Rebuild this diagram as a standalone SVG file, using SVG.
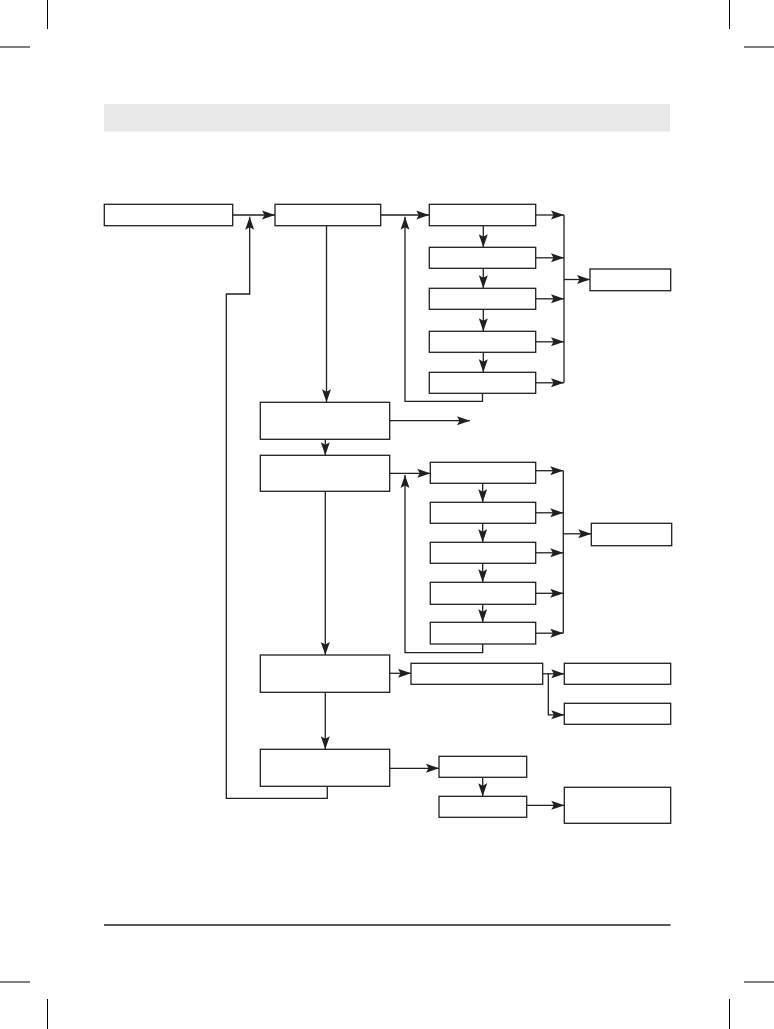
<svg xmlns="http://www.w3.org/2000/svg" width="774" height="1029" viewBox="0 0 774 1029">
<style>
.box{fill:#fff;stroke:#231f20;stroke-width:1.3}
.ln{fill:none;stroke:#231f20;stroke-width:1.3}
.arr{fill:none;stroke:#231f20;stroke-width:1.3;marker-end:url(#ah)}
.crop{stroke:#000;stroke-width:1}
</style>
<defs>
<marker id="ah" viewBox="0 0 13 10" refX="13" refY="5" markerWidth="13" markerHeight="10" orient="auto" markerUnits="userSpaceOnUse">
<path d="M0,0.5 L13,5 L0,9.5 L2.5,5 Z" fill="#231f20"/>
</marker>
</defs>
<rect width="774" height="1029" fill="#fff"/>
<g id="page">
<line class="crop" x1="47.5" y1="0" x2="47.5" y2="29"/>
<line class="crop" x1="0" y1="47" x2="30" y2="47"/>
<line class="crop" x1="729.5" y1="0" x2="729.5" y2="29"/>
<line class="crop" x1="744" y1="47" x2="774" y2="47"/>
<line class="crop" x1="47.5" y1="999" x2="47.5" y2="1029"/>
<line class="crop" x1="0" y1="982" x2="30" y2="982"/>
<line class="crop" x1="729.5" y1="999" x2="729.5" y2="1029"/>
<line class="crop" x1="744" y1="982" x2="774" y2="982"/>
<rect x="104" y="104" width="566" height="27.5" fill="#e8e8e8"/>
<line x1="104" y1="925" x2="670.5" y2="925" stroke="#231f20" stroke-width="1.3"/>
</g>
<g id="connectors">
<line class="arr" x1="232.7" y1="215" x2="275" y2="215"/>
<polyline class="arr" points="327.3,786.3 327.3,798.3 226.3,798.3 226.3,294 249.7,294 249.7,216.8"/>
<line class="arr" x1="380.7" y1="215" x2="429.3" y2="215"/>
<line class="arr" x1="483.3" y1="225.7" x2="483.3" y2="247.3"/>
<line class="arr" x1="483.3" y1="268.3" x2="483.3" y2="288.3"/>
<line class="arr" x1="483.3" y1="309.3" x2="483.3" y2="331.3"/>
<line class="arr" x1="483.3" y1="352.3" x2="483.3" y2="372.3"/>
<polyline class="arr" points="482.5,393.3 482.5,401.3 405,401.3 405,216.8"/>
<line class="arr" x1="535.7" y1="215" x2="564" y2="215"/>
<line class="arr" x1="535.7" y1="257.8" x2="564" y2="257.8"/>
<line class="arr" x1="535.7" y1="298.8" x2="564" y2="298.8"/>
<line class="arr" x1="535.7" y1="341.8" x2="564" y2="341.8"/>
<line class="arr" x1="535.7" y1="382.8" x2="564" y2="382.8"/>
<line class="ln" x1="564" y1="215" x2="564" y2="382.8"/>
<line class="arr" x1="564" y1="279.5" x2="590" y2="279.5"/>
<line class="arr" x1="326.5" y1="225.7" x2="326.5" y2="402.3"/>
<line class="arr" x1="389.7" y1="420.7" x2="470" y2="420.7"/>
<line class="arr" x1="325.3" y1="439.3" x2="325.3" y2="455.3"/>
<line class="arr" x1="389.7" y1="473.3" x2="430.3" y2="473.3"/>
<line class="arr" x1="482.7" y1="483.3" x2="482.7" y2="502.3"/>
<line class="arr" x1="482.7" y1="523.3" x2="482.7" y2="542.3"/>
<line class="arr" x1="482.7" y1="563.3" x2="482.7" y2="582.3"/>
<line class="arr" x1="482.7" y1="604.3" x2="482.7" y2="622.3"/>
<polyline class="arr" points="482.7,644 482.7,652.7 405,652.7 405,475"/>
<line class="arr" x1="535.7" y1="470.7" x2="563.3" y2="470.7"/>
<line class="arr" x1="535.7" y1="512.8" x2="563.3" y2="512.8"/>
<line class="arr" x1="535.7" y1="552.8" x2="563.3" y2="552.8"/>
<line class="arr" x1="535.7" y1="593.3" x2="563.3" y2="593.3"/>
<line class="arr" x1="535.7" y1="633.2" x2="563.3" y2="633.2"/>
<line class="ln" x1="563.3" y1="470.7" x2="563.3" y2="633.2"/>
<line class="arr" x1="563.3" y1="533.8" x2="591.3" y2="533.8"/>
<line class="arr" x1="325.3" y1="491.3" x2="325.3" y2="655"/>
<line class="arr" x1="389.7" y1="673.3" x2="411" y2="673.3"/>
<line class="arr" x1="542.7" y1="673.8" x2="564.3" y2="673.8"/>
<polyline class="arr" points="548.3,673.8 548.3,714.8 564.3,714.8"/>
<line class="arr" x1="325.3" y1="692.3" x2="325.3" y2="749.3"/>
<line class="arr" x1="389.7" y1="768.3" x2="439" y2="768.3"/>
<line class="arr" x1="482.7" y1="777.3" x2="482.7" y2="796.3"/>
<line class="arr" x1="526.7" y1="805.3" x2="564.3" y2="805.3"/>
</g>
<g id="nodeA"><rect class="box" x="104.3" y="204.3" width="128.4" height="21.4"/></g>
<g id="nodeB"><rect class="box" x="275" y="204.3" width="105.7" height="21.4"/></g>
<g id="nodeC1"><rect class="box" x="429.3" y="204.3" width="106.4" height="21.4"/></g>
<g id="nodeC2"><rect class="box" x="429.3" y="247.3" width="106.4" height="21"/></g>
<g id="nodeC3"><rect class="box" x="429.3" y="288.3" width="106.4" height="21"/></g>
<g id="nodeC4"><rect class="box" x="429.3" y="331.3" width="106.4" height="21"/></g>
<g id="nodeC5"><rect class="box" x="429.3" y="372.3" width="106.4" height="21"/></g>
<g id="nodeD"><rect class="box" x="590" y="269" width="80.7" height="21.7"/></g>
<g id="nodeE"><rect class="box" x="260.3" y="402.3" width="129.4" height="37"/></g>
<g id="nodeF"><rect class="box" x="260.3" y="455.3" width="129.4" height="36"/></g>
<g id="nodeG1"><rect class="box" x="430.3" y="462.3" width="105.4" height="21"/></g>
<g id="nodeG2"><rect class="box" x="430.3" y="502.3" width="105.4" height="21"/></g>
<g id="nodeG3"><rect class="box" x="430.3" y="542.3" width="105.4" height="21"/></g>
<g id="nodeG4"><rect class="box" x="430.3" y="582.3" width="105.4" height="22"/></g>
<g id="nodeG5"><rect class="box" x="430.3" y="622.3" width="105.4" height="21.7"/></g>
<g id="nodeH"><rect class="box" x="591.3" y="523.3" width="80.4" height="22.4"/></g>
<g id="nodeI"><rect class="box" x="260.3" y="655" width="129.4" height="37.3"/></g>
<g id="nodeJ"><rect class="box" x="411" y="663.3" width="131.7" height="21"/></g>
<g id="nodeK"><rect class="box" x="564.3" y="663.3" width="106.4" height="21"/></g>
<g id="nodeL"><rect class="box" x="564.3" y="703.3" width="106.4" height="21"/></g>
<g id="nodeM"><rect class="box" x="260.3" y="749.3" width="129.4" height="37"/></g>
<g id="nodeN"><rect class="box" x="439" y="756.3" width="87.7" height="21"/></g>
<g id="nodeO"><rect class="box" x="439" y="796.3" width="87.7" height="21"/></g>
<g id="nodeP"><rect class="box" x="564.3" y="787.3" width="106.4" height="36"/></g>
</svg>
